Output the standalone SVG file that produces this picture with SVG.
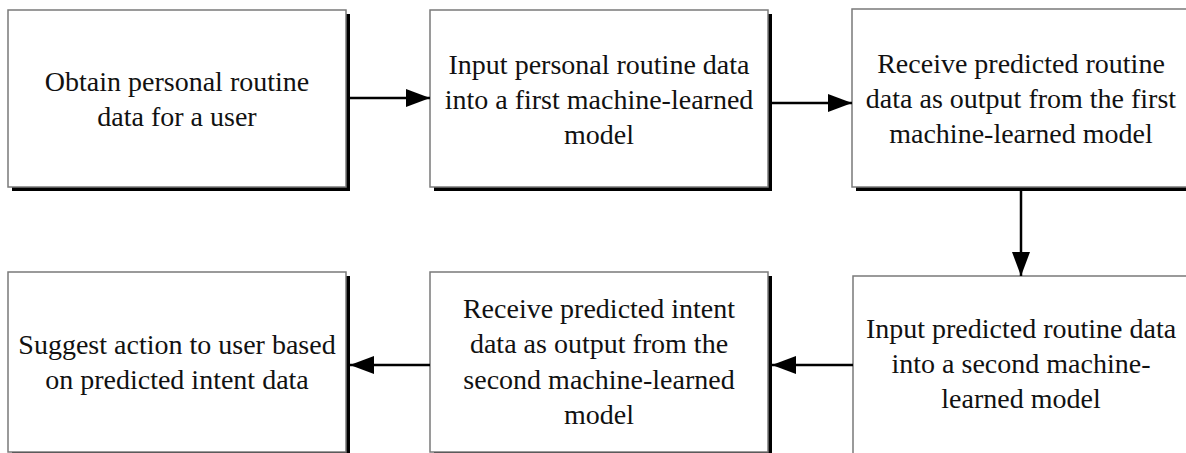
<svg xmlns="http://www.w3.org/2000/svg" width="1186" height="453" viewBox="0 0 1186 453">
<defs>
<style>
.box{fill:#fff;stroke:#7a7a7a;stroke-width:1.5}
.shadow{fill:#000}
.t{font-family:'Liberation Serif','Times New Roman',serif;font-size:28px;fill:#111;text-anchor:middle}
.conn{stroke:#000;stroke-width:2.5;fill:none}
</style>
<marker id="ah" markerWidth="24" markerHeight="18" refX="24" refY="9" orient="auto" markerUnits="userSpaceOnUse">
<path d="M0,0 L24,9 L0,18 Z" fill="#000"/>
</marker>
</defs>
<rect width="1186" height="453" fill="#fff"/>
<g id="n1">
<rect class="shadow" x="12" y="14" width="338" height="177"/>
<rect class="box" x="8" y="10" width="338" height="177"/>
<text class="t" x="177" y="91">Obtain personal routine</text>
<text class="t" x="177" y="126">data for a user</text>
</g>
<g id="n2">
<rect class="shadow" x="434" y="14" width="338" height="177"/>
<rect class="box" x="430" y="10" width="338" height="177"/>
<text class="t" x="599" y="74">Input personal routine data</text>
<text class="t" x="599" y="109">into a first machine-learned</text>
<text class="t" x="599" y="144">model</text>
</g>
<g id="n3">
<rect class="shadow" x="856" y="13" width="338" height="178"/>
<rect class="box" x="852" y="9" width="338" height="178"/>
<text class="t" x="1021" y="73">Receive predicted routine</text>
<text class="t" x="1021" y="108">data as output from the first</text>
<text class="t" x="1021" y="143">machine-learned model</text>
</g>
<g id="n4">
<rect class="box" x="853" y="276" width="338" height="180"/>
<text class="t" x="1021" y="338">Input predicted routine data</text>
<text class="t" x="1021" y="373">into a second machine-</text>
<text class="t" x="1021" y="408">learned model</text>
</g>
<g id="n5">
<rect class="shadow" x="434" y="276" width="338" height="180"/>
<rect class="box" x="430" y="272" width="338" height="180"/>
<text class="t" x="599" y="318">Receive predicted intent</text>
<text class="t" x="599" y="353">data as output from the</text>
<text class="t" x="599" y="389">second machine-learned</text>
<text class="t" x="599" y="424">model</text>
</g>
<g id="n6">
<rect class="shadow" x="12" y="276" width="338" height="180"/>
<rect class="box" x="8" y="272" width="338" height="180"/>
<text class="t" x="177" y="354">Suggest action to user based</text>
<text class="t" x="177" y="389">on predicted intent data</text>
</g>
<g id="connectors">
<line class="conn" x1="350" y1="98" x2="430" y2="98" marker-end="url(#ah)"/>
<line class="conn" x1="772" y1="103" x2="852" y2="103" marker-end="url(#ah)"/>
<line class="conn" x1="1021" y1="191" x2="1021" y2="276" marker-end="url(#ah)"/>
<line class="conn" x1="853" y1="365" x2="772" y2="365" marker-end="url(#ah)"/>
<line class="conn" x1="430" y1="365" x2="350" y2="365" marker-end="url(#ah)"/>
</g>
</svg>
